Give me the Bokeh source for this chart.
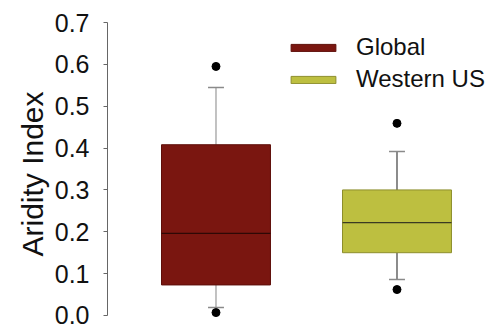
from bokeh.plotting import figure
from bokeh.models import Legend, LegendItem, ColumnDataSource
from bokeh.embed import file_html
from bokeh.resources import INLINE

# ---- data ----
groups = ["Global", "Western US"]
q1 = [0.073, 0.150]
median = [0.196, 0.222]
q3 = [0.408, 0.300]
whisker_low = [0.019, 0.086]
whisker_high = [0.545, 0.392]
outliers_low = [0.007, 0.062]
outliers_high = [0.595, 0.459]
fill_colors = ["#7a1610", "#bdbf40"]
edge_colors = ["#5e0f0a", "#8d8e2c"]
whisker_colors = ["#9a9a9a", "#404040"]
cap_colors = ["#8a8a8a", "#8a8a8a"]
median_colors = ["#2e0805", "#3a3a22"]
y_ticks = [0.0, 0.1, 0.2, 0.3, 0.4, 0.5, 0.6, 0.7]

FONT = "Liberation Sans"
BOX_W = 0.602
CAP_W = 0.088

xs = [i + 1 for i in range(len(groups))]

p = figure(width=491, height=325, output_backend="svg", toolbar_location=None,
           x_range=(0.4006, 2.5221), y_range=(-0.0239, 0.7),
           min_border_left=107, min_border_right=0, min_border_top=22, min_border_bottom=0)
p.outline_line_color = None
p.grid.visible = False
p.xaxis.visible = False
p.background_fill_color = "white"
p.border_fill_color = "white"

yax = p.yaxis[0]
yax.ticker = y_ticks
yax.bounds = (0, 0.7)
yax.axis_label = "Aridity Index"
yax.axis_label_text_font = FONT
yax.axis_label_text_font_size = "30px"
yax.axis_label_text_font_style = "normal"
yax.axis_label_text_color = "#111111"
yax.axis_label_standoff = 3
yax.major_label_text_font = FONT
yax.major_label_text_font_size = "25px"
yax.major_label_text_color = "#111111"
yax.major_label_standoff = 14
yax.major_label_overrides = {t: f"{t:.1f}" for t in y_ticks}
yax.major_tick_out = 4
yax.major_tick_in = 0
yax.minor_tick_out = 0
yax.minor_tick_in = 0
yax.axis_line_color = "#666666"
yax.major_tick_line_color = "#666666"

src = ColumnDataSource(dict(x=xs, q1=q1, q3=q3, med=median, lo=whisker_low, hi=whisker_high,
                            wc=whisker_colors, cc=cap_colors, mc=median_colors,
                            cl=[x - CAP_W / 2 for x in xs], cr=[x + CAP_W / 2 for x in xs],
                            bl=[x - BOX_W / 2 for x in xs], br=[x + BOX_W / 2 for x in xs]))

# whiskers and caps
p.segment(x0="x", y0="q3", x1="x", y1="hi", source=src, line_color="wc", line_width=1.2)
p.segment(x0="x", y0="lo", x1="x", y1="q1", source=src, line_color="wc", line_width=1.2)
p.segment(x0="cl", y0="hi", x1="cr", y1="hi", source=src, line_color="cc", line_width=1.5)
p.segment(x0="cl", y0="lo", x1="cr", y1="lo", source=src, line_color="cc", line_width=1.5)

# boxes
box_renderers = []
for i, g in enumerate(groups):
    r = p.vbar(x=[xs[i]], bottom=[q1[i]], top=[q3[i]], width=BOX_W,
               fill_color=fill_colors[i], line_color=edge_colors[i], line_width=1)
    box_renderers.append(r)

# medians
p.segment(x0="bl", y0="med", x1="br", y1="med", source=src, line_color="mc", line_width=1.2)

# outliers
p.scatter(x=xs + xs, y=outliers_low + outliers_high, size=8, color="black")

legend = Legend(items=[LegendItem(label=g, renderers=[r]) for g, r in zip(groups, box_renderers)],
                location=(178, 232), glyph_width=56, glyph_height=9, label_standoff=15,
                label_text_font=FONT, label_text_font_size="24px", label_text_color="#111111",
                label_height=28, spacing=4, padding=0, margin=0,
                border_line_color=None, background_fill_alpha=0)
p.add_layout(legend, "center")

open("out.html", "w").write(file_html(p, INLINE))
